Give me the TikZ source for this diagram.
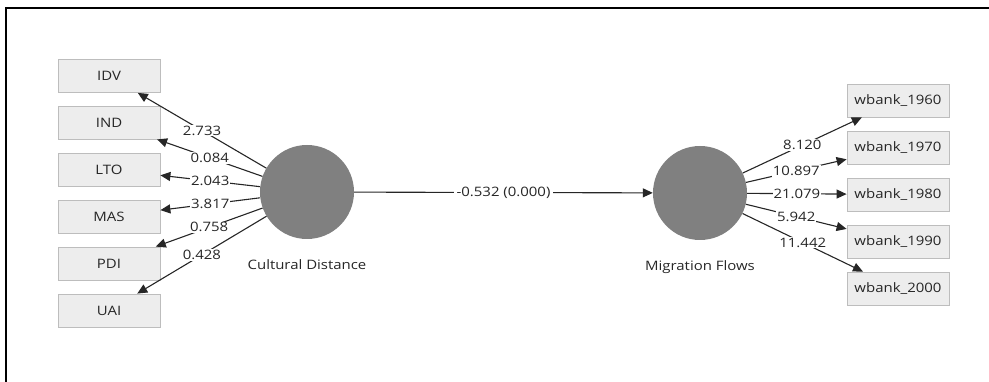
\documentclass[tikz,border=0pt]{standalone}
\usepackage{fontspec}
\setmainfont{Open Sans}[FakeStretch=1.15]
\usetikzlibrary{arrows.meta}
\definecolor{boxfill}{HTML}{EDEDED}
\definecolor{boxline}{HTML}{BDBDBD}
\definecolor{lvfill}{HTML}{808080}
\definecolor{txt}{HTML}{262626}
\begin{document}
\begin{tikzpicture}[x=1pt,y=-1pt,
  ind/.style={draw=boxline, fill=boxfill, line width=0.8pt, minimum width=102pt, minimum height=33pt, inner sep=0pt, font=\fontsize{13}{13}\selectfont, text=txt},
  lv/.style={circle, fill=lvfill, minimum size=94pt, inner sep=0pt},
  lvlabel/.style={font=\fontsize{13}{13}\selectfont, text=txt},
  conn/.style={draw=black!85, line width=1.1pt, -{Triangle[length=10pt,width=9pt]}},
  wlabel/.style={midway, fill=white, inner sep=1pt, font=\fontsize{13}{13}\selectfont, text=txt}]
\useasboundingbox (0,0) rectangle (989,382);
\draw[line width=2pt] (6,382) -- (6,8) -- (989,8);
% indicators left
\node[ind] (idv) at (109,76) {IDV};
\node[ind] (indn) at (109,122.5) {IND};
\node[ind] (lto) at (109,169.5) {LTO};
\node[ind] (mas) at (109,216.5) {MAS};
\node[ind] (pdi) at (109,263.5) {PDI};
\node[ind] (uai) at (109,310.5) {UAI};
% indicators right
\node[ind] (w60) at (898,100.5) {wbank\_1960};
\node[ind] (w70) at (898,147.5) {wbank\_1970};
\node[ind] (w80) at (898,194.5) {wbank\_1980};
\node[ind] (w90) at (898,241.5) {wbank\_1990};
\node[ind] (w00) at (898,288.5) {wbank\_2000};
% latent variables
\node[lv] (cd) at (307,192) {};
\node[lv] (mf) at (700,193) {};
\node[lvlabel] (cdl) at (307,265) {Cultural Distance};
\node[lvlabel] (mfl) at (700,267) {Migration Flows};
% connectors
\draw[conn] (cd) -- node[wlabel] {2.733} (idv);
\draw[conn] (cd) -- node[wlabel] {0.084} (indn);
\draw[conn] (cd) -- node[wlabel] {2.043} (lto);
\draw[conn] (cd) -- node[wlabel] {3.817} (mas);
\draw[conn] (cd) -- node[wlabel] {0.758} (pdi);
\draw[conn] (cd) -- node[wlabel] {0.428} (uai);
\draw[conn] (cd) -- node[wlabel, inner xsep=3pt] {-0.532 (0.000)} (mf);
\draw[conn] (mf) -- node[wlabel] {8.120} (w60);
\draw[conn] (mf) -- node[wlabel] {10.897} (w70);
\draw[conn] (mf) -- node[wlabel] {21.079} (w80);
\draw[conn] (mf) -- node[wlabel] {5.942} (w90);
\draw[conn] (mf) -- node[wlabel] {11.442} (w00);
\end{tikzpicture}
\end{document}
